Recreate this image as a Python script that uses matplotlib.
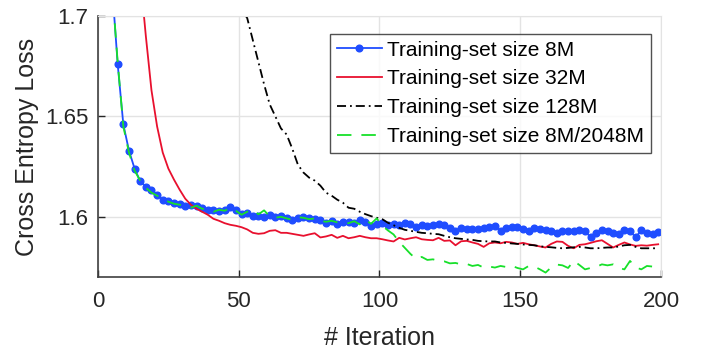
import matplotlib
matplotlib.use("Agg")
import matplotlib.pyplot as plt
import numpy as np

plt.rcParams['font.family'] = ['Liberation Sans', 'DejaVu Sans']

iterations = list(range(1, 200, 2))

loss_8m = [1.85, 1.79, 1.715, 1.676, 1.646, 1.633, 1.624, 1.6177, 1.615, 1.6135,
           1.611, 1.6085, 1.6078, 1.607, 1.6063, 1.6052, 1.6057, 1.6052, 1.6045, 1.6035,
           1.6032, 1.603, 1.6035, 1.6048, 1.6035, 1.6015, 1.6018, 1.6003, 1.6005, 1.6,
           1.6008, 1.5997, 1.6002, 1.5995, 1.5985, 1.5995, 1.6, 1.5992, 1.599, 1.5985,
           1.597, 1.5978, 1.5965, 1.5972, 1.5975, 1.597, 1.5983, 1.5972, 1.5955, 1.5965,
           1.597, 1.596, 1.5965, 1.5958, 1.597, 1.5962, 1.595, 1.5958, 1.5955, 1.596,
           1.5962, 1.596, 1.5945, 1.593, 1.5942, 1.594, 1.5938, 1.594, 1.5942, 1.595,
           1.5955, 1.593, 1.5942, 1.5948, 1.595, 1.594, 1.593, 1.5945, 1.594, 1.5935,
           1.593, 1.592, 1.5928, 1.5927, 1.593, 1.5935, 1.593, 1.5897, 1.592, 1.5933,
           1.593, 1.592, 1.5913, 1.5933, 1.593, 1.5897, 1.5933, 1.592, 1.5913, 1.5925]

loss_32m = [2.3, 2.1, 1.98, 1.9, 1.84, 1.8, 1.765, 1.72, 1.69, 1.663,
            1.645, 1.632, 1.624, 1.6185, 1.6135, 1.609, 1.606, 1.604, 1.6025, 1.601,
            1.599, 1.598, 1.5968, 1.596, 1.5955, 1.5948, 1.5937, 1.592, 1.5915, 1.5918,
            1.593, 1.5933, 1.592, 1.592, 1.5915, 1.591, 1.5905, 1.5912, 1.5918, 1.5897,
            1.5902, 1.591, 1.5895, 1.5905, 1.5893, 1.5898, 1.5905, 1.5898, 1.5893, 1.5893,
            1.5888, 1.5882, 1.5877, 1.5895, 1.5887, 1.5893, 1.5898, 1.5888, 1.5885, 1.5883,
            1.5895, 1.588, 1.5882, 1.5858, 1.5878, 1.588, 1.5872, 1.5865, 1.585, 1.5868,
            1.5872, 1.5868, 1.5875, 1.5872, 1.5865, 1.587, 1.5863, 1.5858, 1.5852, 1.5847,
            1.5865, 1.5877, 1.5875, 1.5855, 1.5843, 1.586, 1.5863, 1.587, 1.5878, 1.5883,
            1.5865, 1.5847, 1.586, 1.5872, 1.5862, 1.5855, 1.5858, 1.5856, 1.586, 1.5863]

loss_128m = [2.6, 2.45, 2.3, 2.2, 2.12, 2.06, 2.01, 1.97, 1.935, 1.905,
             1.88, 1.86, 1.84, 1.822, 1.806, 1.792, 1.78, 1.768, 1.757, 1.747,
             1.738, 1.729, 1.721, 1.714, 1.708, 1.703, 1.699, 1.688, 1.677, 1.666,
             1.656, 1.65, 1.644, 1.641, 1.634, 1.626, 1.622, 1.6195, 1.618, 1.6155,
             1.612, 1.6105, 1.6085, 1.607, 1.6045, 1.604, 1.6025, 1.6013, 1.6003, 1.5995,
             1.5988, 1.597, 1.5958, 1.5945, 1.5935, 1.593, 1.5925, 1.592, 1.5918, 1.5915,
             1.5913, 1.5905, 1.5898, 1.5893, 1.589, 1.5887, 1.5885, 1.588, 1.5878, 1.5877,
             1.5877, 1.5872, 1.587, 1.5867, 1.5865, 1.5862, 1.586, 1.5858, 1.5853, 1.585,
             1.5848, 1.5845, 1.5843, 1.5845, 1.5848, 1.585, 1.5847, 1.5843, 1.5843, 1.5845,
             1.5847, 1.5847, 1.5852, 1.5858, 1.586, 1.585, 1.5843, 1.5843, 1.5843, 1.5843]

loss_8m_2048m = [1.85, 1.79, 1.714, 1.677, 1.645, 1.632, 1.623, 1.618, 1.6145, 1.612,
                 1.6105, 1.609, 1.6075, 1.6065, 1.606, 1.6055, 1.6045, 1.6055, 1.604, 1.6035,
                 1.6025, 1.6035, 1.603, 1.6045, 1.603, 1.601, 1.6025, 1.6035, 1.6012, 1.6032,
                 1.6002, 1.5995, 1.6, 1.5992, 1.5985, 1.5998, 1.5995, 1.5988, 1.5992, 1.598,
                 1.5975, 1.598, 1.5972, 1.597, 1.5968, 1.5978, 1.5962, 1.5985, 1.5965, 1.5992,
                 1.5955, 1.5932, 1.5912, 1.5875, 1.5845, 1.5815, 1.579, 1.58, 1.5785, 1.5788,
                 1.578, 1.5778, 1.5768, 1.577, 1.5763, 1.5765, 1.5755, 1.576, 1.5747, 1.5752,
                 1.5747, 1.5755, 1.575, 1.5756, 1.5745, 1.5738, 1.5755, 1.5752, 1.5738, 1.5722,
                 1.5748, 1.5762, 1.5758, 1.5745, 1.578, 1.576, 1.5738, 1.5745, 1.575, 1.5763,
                 1.5758, 1.5763, 1.5745, 1.5738, 1.578, 1.5748, 1.5738, 1.5755, 1.5752, 1.575]

labels = ['Training-set size 8M', 'Training-set size 32M',
          'Training-set size 128M', 'Training-set size 8M/2048M']
x_ticks = [0, 50, 100, 150, 200]
y_ticks = [1.6, 1.65, 1.7]
y_tick_labels = ['1.6', '1.65', '1.7']

fig = plt.figure(figsize=(7.09, 3.49), dpi=100)
ax = fig.add_axes([0.1382, 0.2063, 0.7941, 0.7479])

ax.plot(iterations, loss_8m, '-', color='#1f4dff', lw=1.3, marker='o',
        markersize=4.8, label=labels[0])
ax.plot(iterations, loss_32m, '-', color='#e8102e', lw=1.3, label=labels[1])
ax.plot(iterations, loss_128m, color='black', lw=1.3,
        dashes=(5, 2.2, 1, 2.2), label=labels[2])
ax.plot(iterations, loss_8m_2048m, color='#17e02a', lw=1.3,
        dashes=(8, 5.5), label=labels[3])

ax.set_xlim(0, 200)
ax.set_ylim(1.57, 1.7)
ax.set_xticks(x_ticks)
ax.set_yticks(y_ticks)
ax.set_yticklabels(y_tick_labels)
ax.tick_params(direction='in', length=5, width=1, labelsize=16, colors='#262626')
ax.tick_params(axis='x', pad=10)
ax.tick_params(axis='y', pad=7)
ax.grid(True, color='#e3e3e3', lw=1)
ax.set_axisbelow(True)
for s in ['top', 'right']:
    ax.spines[s].set_color('#e3e3e3')
for s in ['left', 'bottom']:
    ax.spines[s].set_color('#404040')
    ax.spines[s].set_linewidth(1.2)

ax.set_xlabel('# Iteration', fontsize=18, color='#262626', labelpad=10)
ax.set_ylabel('Cross Entropy Loss', fontsize=18, color='#262626', labelpad=4)

leg = ax.legend(loc='upper right', bbox_to_anchor=(0.982, 0.931), fontsize=15,
                frameon=True, fancybox=False, edgecolor='#262626',
                handlelength=2.16, handletextpad=0.25, borderpad=0.32,
                labelspacing=0.47, borderaxespad=0)
leg.get_frame().set_linewidth(1.0)

fig.savefig('out.png', dpi=100)
